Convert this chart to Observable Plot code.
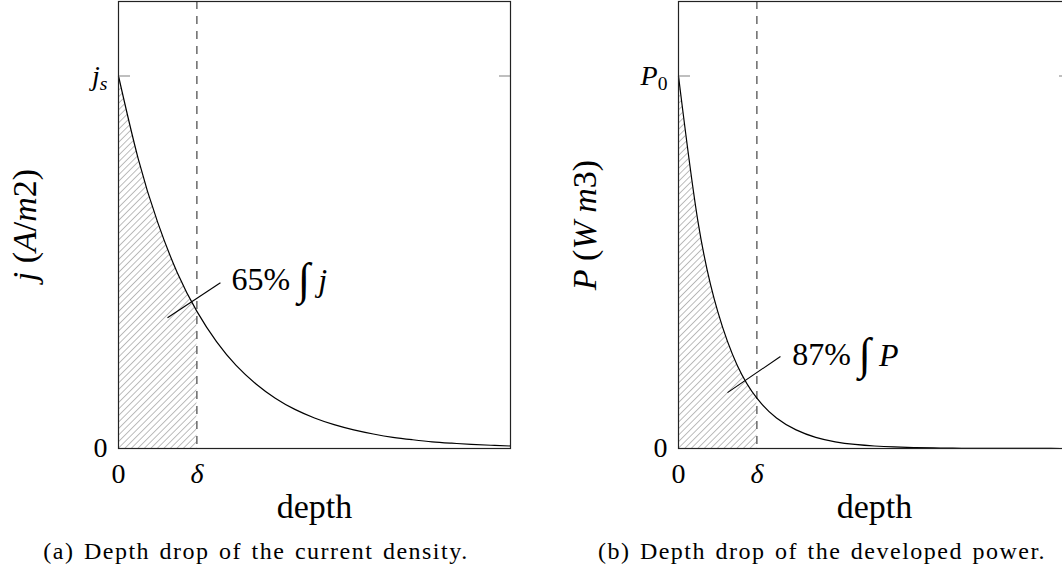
<!DOCTYPE html>
<html>
<head>
<meta charset="utf-8">
<script src="https://cdn.jsdelivr.net/npm/d3@7"></script>
<script src="https://cdn.jsdelivr.net/npm/@observablehq/plot@0.6"></script>
<style>
  html, body { margin: 0; padding: 0; background: #fff; width: 1062px; height: 576px; overflow: hidden; }
  #wrap { position: relative; width: 1062px; height: 576px; overflow: hidden; font-family: "Liberation Serif", "Times New Roman", serif; }
  .panel { position: absolute; top: 0; width: 531px; height: 535px; }
  .panel svg { max-width: none !important; }
  .cap { position: absolute; top: 539px; width: 520px; text-align: center; font-size: 24px; line-height: 1; color: #000; white-space: nowrap; letter-spacing: 1.5px; word-spacing: 2px; }
</style>
</head>
<body>
<div id="wrap"></div>
<script>
// ---- data ----
const depth = [0, 0.25, 0.5, 0.75, 1, 1.25, 1.5, 1.75, 2, 2.25, 2.5, 2.75, 3, 3.25, 3.5, 3.75, 4, 4.25, 4.5, 4.75, 5];
const currentDensity = [1, 0.779, 0.607, 0.472, 0.368, 0.287, 0.223, 0.174, 0.135, 0.105, 0.082, 0.064, 0.05, 0.039, 0.03, 0.0235, 0.018, 0.0143, 0.0111, 0.0087, 0.0067];
const developedPower = [1, 0.607, 0.368, 0.223, 0.135, 0.082, 0.05, 0.03, 0.018, 0.011, 0.0067, 0.0041, 0.0025, 0.0015, 0.0009, 0.00055, 0.00034, 0.0002, 0.00012, 0.00007, 0.00005];
const skinDepth = [1];
const xTicks = [0, 1];
const xTickLabels = ["0", "δ"];
const yTicks = [0, 1];
const yTickLabelsA = ["0", "j_s"];
const yTickLabelsB = ["0", "P_0"];
const yLabels = ["j (A/m2)", "P (W m3)"];
const xLabel = "depth";
const annotTextA = "65% ∫ j";
const annotTextB = "87% ∫ P";
const annotPosA = {x: 1.44, y: 0.454, x1: 0.625, y1: 0.351, x2: 1.30, y2: 0.445};
const annotPosB = {x: 1.45, y: 0.252, x1: 0.625, y1: 0.150, x2: 1.30, y2: 0.247};
const captions = ["(a) Depth drop of the current density.", "(b) Depth drop of the developed power."];

const rich = {
  "j_s": '<tspan font-style="italic">j</tspan><tspan font-style="italic" font-size="70%" dy="0.25em">s</tspan>',
  "P_0": '<tspan font-style="italic">P</tspan><tspan font-size="70%" dy="0.25em">0</tspan>',
  "δ": '<tspan font-style="italic">δ</tspan>',
  "j (A/m2)": '<tspan font-style="italic">j</tspan> (<tspan font-style="italic">A</tspan>/<tspan font-style="italic">m</tspan>2)',
  "P (W m3)": '<tspan font-style="italic">P</tspan> (<tspan font-style="italic">W m</tspan>3)',
  "65% ∫ j": '65% <tspan font-size="140%" dy="0.1em">∫</tspan><tspan dy="-0.1em"> </tspan><tspan font-style="italic">j</tspan>',
  "87% ∫ P": '87% <tspan font-size="140%" dy="0.1em">∫</tspan><tspan dy="-0.1em"> </tspan><tspan font-style="italic">P</tspan>'
};

const FONT = "'Liberation Serif', 'Times New Roman', serif";

function makePanel(values, yTickLabels, yLabel, annotText, annot, pid) {
  const rows = depth.map((d, i) => ({x: d, y: values[i]}));
  const shaded = rows.filter(r => r.x <= skinDepth[0]);
  const yFmt = new Map(yTicks.map((t, i) => [t, yTickLabels[i]]));
  const xFmt = new Map(xTicks.map((t, i) => [t, xTickLabels[i]]));
  const svg = Plot.plot({
    width: 531,
    height: 535,
    marginLeft: 118,
    marginRight: 21,
    marginTop: 1,
    marginBottom: 87,
    style: {fontFamily: FONT, color: "#000", background: "transparent", overflow: "visible"},
    x: {domain: [0, 5], axis: null},
    y: {domain: [0, 1.2], axis: null},
    marks: [
      Plot.areaY(shaded, {x: "x", y: "y", fill: `url(#hatch${pid})`, curve: "natural"}),
      Plot.ruleX(skinDepth, {stroke: "#333", strokeWidth: 1.1, strokeDasharray: "8,7"}),
      Plot.line(rows, {x: "x", y: "y", stroke: "#000", strokeWidth: 1.2, curve: "natural"}),
      Plot.axisY({anchor: "left", ticks: yTicks.slice(1), tickSize: -12, stroke: "#aaa", strokeWidth: 1.5, tickFormat: () => "", label: null}),
      Plot.axisY({anchor: "right", ticks: yTicks.slice(1), tickSize: -12, stroke: "#aaa", strokeWidth: 1.5, tickFormat: () => "", label: null}),
      Plot.axisY({anchor: "left", ticks: yTicks, tickSize: 0, tickPadding: 11, fontSize: 28, tickFormat: d => yFmt.get(d), label: null}),
      Plot.axisX({anchor: "bottom", ticks: xTicks, tickSize: 0, tickPadding: 15, fontSize: 28, tickFormat: d => xFmt.get(d), label: null}),
      Plot.frame({stroke: "#222", strokeWidth: 1.2}),
      Plot.link([annot], {x1: "x1", y1: "y1", x2: "x2", y2: "y2", stroke: "#000", strokeWidth: 1.1}),
      Plot.text([annot], {x: "x", y: "y", text: () => annotText, textAnchor: "start", lineAnchor: "middle", fontSize: 32, fill: "#000"}),
      Plot.text([xLabel], {frameAnchor: "bottom", textAnchor: "middle", dy: 59, lineAnchor: "middle", fontSize: 34, fill: "#000"}),
      Plot.text([yLabel], {frameAnchor: "left", textAnchor: "middle", dx: -93, rotate: -90, lineAnchor: "middle", fontSize: 34, fill: "#000"})
    ]
  });
  svg.style.maxWidth = "none";
  // hatch pattern
  const defs = document.createElementNS("http://www.w3.org/2000/svg", "defs");
  defs.innerHTML = `<pattern id="hatch${pid}" patternUnits="userSpaceOnUse" width="4.6" height="4.6" patternTransform="rotate(45)"><line x1="0" y1="-1" x2="0" y2="6" stroke="#7a7a7a" stroke-width="1"/></pattern>`;
  svg.insertBefore(defs, svg.firstChild);
  // rich text (subscripts, italics)
  svg.querySelectorAll("text").forEach(t => {
    const s = t.textContent;
    if (rich[s] && t.children.length === 0) t.innerHTML = rich[s];
  });
  return svg;
}

const wrap = document.getElementById("wrap");
const pA = makePanel(currentDensity, yTickLabelsA, yLabels[0], annotTextA, annotPosA, "A");
const pB = makePanel(developedPower, yTickLabelsB, yLabels[1], annotTextB, annotPosB, "B");
const dA = document.createElement("div"); dA.className = "panel"; dA.style.left = "0px"; dA.appendChild(pA);
const dB = document.createElement("div"); dB.className = "panel"; dB.style.left = "560px"; dB.appendChild(pB);
wrap.appendChild(dA); wrap.appendChild(dB);
const cA = document.createElement("div"); cA.className = "cap"; cA.style.left = "-4px"; cA.textContent = captions[0];
const cB = document.createElement("div"); cB.className = "cap"; cB.style.left = "562px"; cB.textContent = captions[1];
wrap.appendChild(cA); wrap.appendChild(cB);
</script>
</body>
</html>
